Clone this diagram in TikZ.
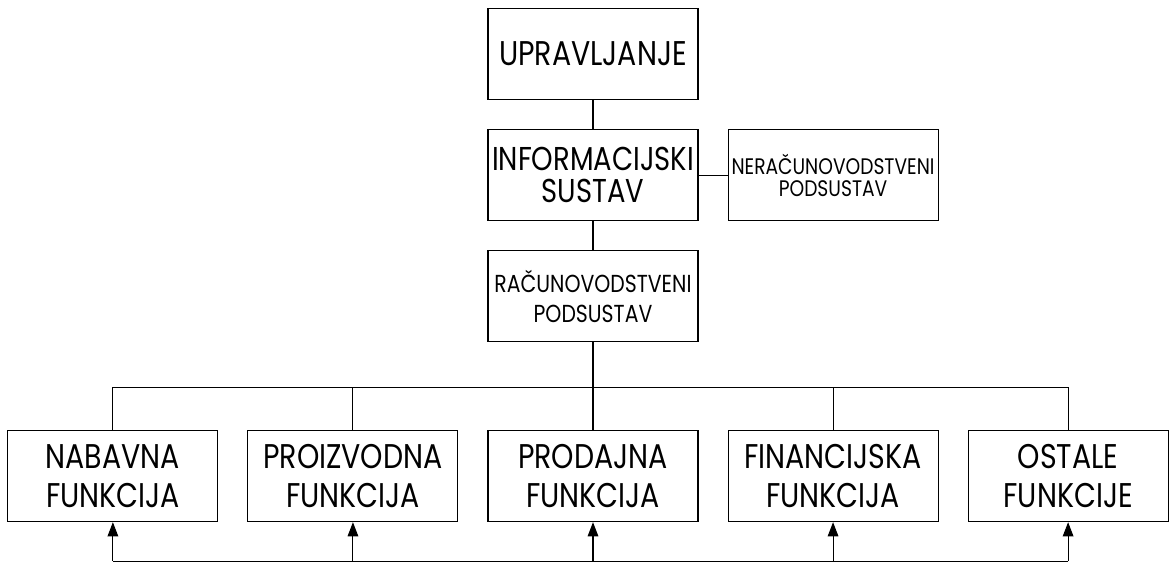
\documentclass[tikz,border=0pt]{standalone}
\usepackage{fontspec}
\setmainfont{Poppins}[FakeStretch=0.83]
\usetikzlibrary{arrows.meta, positioning, calc}

\begin{document}
\begin{tikzpicture}[
        node distance=0.58cm and 0.58cm,
        box/.style={rectangle, draw=black, line width=0.6pt, minimum width=4.2cm, minimum height=1.82cm, inner sep=1pt, align=center},
        bigtxt/.style={font=\fontsize{19.5}{22}\selectfont},
        midtxt/.style={font=\fontsize{18.8}{18.5}\selectfont},
        smalltxt/.style={font=\fontsize{12.8}{12.5}\selectfont},
        link/.style={line width=0.6pt, draw=black},
        uparrow/.style={link, -{Triangle[length=8pt, width=6pt]}}
    ]
        \useasboundingbox (-11.86,1.08) rectangle (11.52,-10.14);

        % Top of the hierarchy
        \node[box, bigtxt] (upr) at (0,0) {UPRAVLJANJE};
        \node[box, midtxt, below=of upr] (info) {INFORMACIJSKI\\SUSTAV};
        \node[box, smalltxt, right=of info] (nerac) {NERAČUNOVODSTVENI\\PODSUSTAV};
        \node[box, font=\fontsize{14}{17}\selectfont, below=of info] (rac) {RAČUNOVODSTVENI\\PODSUSTAV};

        % Business functions
        \node[box, bigtxt, below=1.76cm of rac] (prod) {PRODAJNA\\FUNKCIJA};
        \node[box, bigtxt, left=of prod] (proiz) {PROIZVODNA\\FUNKCIJA};
        \node[box, bigtxt, left=of proiz] (nab) {NABAVNA\\FUNKCIJA};
        \node[box, bigtxt, right=of prod] (fin) {FINANCIJSKA\\FUNKCIJA};
        \node[box, bigtxt, right=of fin, minimum width=4.0cm] (ost) {OSTALE\\FUNKCIJE};

        % Connections
        \draw[link] (upr) -- (info);
        \draw[link] (info) -- (nerac);
        \draw[link] (info) -- (rac);
        \coordinate (bus) at ($(rac.south)+(0,-0.9)$);
        \coordinate (low) at ($(prod.south)+(0,-0.78)$);
        \draw[link] (rac.south) -- (bus);
        \draw[link] (nab.north) |- (bus) -| (ost.north);
        \foreach \f in {proiz, prod, fin}
            \draw[link] (\f.north |- bus) -- (\f.north);
        \draw[link] (nab.south |- low) -- (ost.south |- low);
        \foreach \f in {nab, proiz, prod, fin, ost}
            \draw[uparrow] (\f.south |- low) -- (\f.south);
    \end{tikzpicture}
\end{document}
